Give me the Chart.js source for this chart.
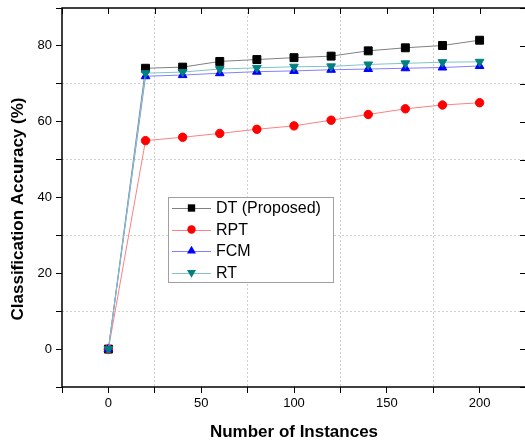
<!DOCTYPE html>
<html>
<head>
<meta charset="utf-8">
<script src="https://cdn.jsdelivr.net/npm/chart.js@4"></script>
<style>
html,body{margin:0;padding:0;background:#fff;overflow:hidden;}
#wrap{width:525px;height:444px;overflow:hidden;}
canvas{display:block;}
</style>
</head>
<body>
<div id="wrap"><canvas id="c" width="527" height="444"></canvas></div>
<script>
const instances = [0, 20, 40, 60, 80, 100, 120, 140, 160, 180, 200];
const dtValues  = [0, 74.1, 74.4, 75.9, 76.4, 76.9, 77.3, 78.7, 79.5, 80.1, 81.5];
const rptValues = [0, 55.0, 55.9, 56.9, 58.0, 58.9, 60.4, 61.9, 63.4, 64.4, 65.0];
const fcmValues = [0, 72.0, 72.3, 72.8, 73.2, 73.4, 73.7, 73.9, 74.1, 74.3, 74.7];
const rtValues  = [0, 72.8, 73.1, 73.9, 74.2, 74.5, 74.6, 75.1, 75.4, 75.7, 75.8];
const seriesNames = ['DT (Proposed)', 'RPT', 'FCM', 'RT'];
const xTitle = 'Number of Instances';
const yTitle = 'Classification Accuracy (%)';

const FONT = '"Liberation Sans", Arial, sans-serif';
const styles = [
  {line:'#808080', fill:'#000000', shape:'rect', r:5.6, rot:0},
  {line:'#ff8080', fill:'#ff0000', shape:'circle', r:4.2, rot:0},
  {line:'#8080ff', fill:'#0000ff', shape:'triangle', r:5, rot:0},
  {line:'#80c4c4', fill:'#008080', shape:'triangle', r:5, rot:180}
];
const allValues = [dtValues, rptValues, fcmValues, rtValues];

const datasets = allValues.map((vals, i) => ({
  label: seriesNames[i],
  data: instances.map((x, j) => ({x: x, y: vals[j]})),
  borderColor: styles[i].line,
  borderWidth: 1,
  pointStyle: styles[i].shape,
  pointRotation: styles[i].rot,
  pointRadius: styles[i].r,
  pointBackgroundColor: styles[i].fill,
  pointBorderColor: styles[i].fill,
  pointBorderWidth: 1,
  tension: 0,
  fill: false,
  clip: false,
  order: 4 - i
}));

function gridColor(ctx, step, lo, hi) {
  if (!ctx.tick) return 'rgba(0,0,0,0)';
  const v = ctx.tick.value;
  if (v <= lo || v >= hi) return 'rgba(0,0,0,0)';
  if (Math.abs(v % step) < 1e-6) return 'rgba(0,0,0,0)';
  return '#d0d0d0';
}

function drawMarker(ctx, shape, x, y, r, rot, color) {
  ctx.save();
  ctx.fillStyle = color;
  ctx.beginPath();
  if (shape === 'rect') {
    const s = Math.SQRT1_2 * r;
    ctx.rect(x - s, y - s, 2 * s, 2 * s);
  } else if (shape === 'circle') {
    ctx.arc(x, y, r, 0, Math.PI * 2);
  } else {
    const dir = rot === 180 ? -1 : 1;
    ctx.moveTo(x, y - dir * r);
    ctx.lineTo(x + r * 0.866, y + dir * r * 0.5);
    ctx.lineTo(x - r * 0.866, y + dir * r * 0.5);
    ctx.closePath();
  }
  ctx.fill();
  ctx.restore();
}

const framePlugin = {
  id: 'frame',
  afterDraw(chart) {
    const ctx = chart.ctx;
    const a = chart.chartArea;
    const xs = chart.scales.x, ys = chart.scales.y;
    ctx.save();
    ctx.setLineDash([]);
    ctx.strokeStyle = '#000';
    ctx.lineWidth = 1.5;
    ctx.strokeRect(a.left, a.top, a.right - a.left, a.bottom - a.top);
    ctx.lineWidth = 1;
    ctx.beginPath();
    for (let v = -25; v <= 225; v += 25) {
      const px = Math.round(xs.getPixelForValue(v)) + 0.5;
      ctx.moveTo(px, a.top);
      ctx.lineTo(px, a.top + 6);
    }
    for (let v = -10; v <= 90; v += 10) {
      const py = Math.round(ys.getPixelForValue(v)) + 0.5;
      ctx.moveTo(a.right, py);
      ctx.lineTo(a.right - 6, py);
    }
    ctx.stroke();

    // axis titles
    ctx.fillStyle = '#000';
    ctx.font = 'bold 17px ' + FONT;
    ctx.textAlign = 'center';
    ctx.textBaseline = 'middle';
    ctx.fillText(xTitle, 294, 432);
    ctx.save();
    ctx.translate(18, 209);
    ctx.rotate(-Math.PI / 2);
    ctx.fillText(yTitle, 0, 0);
    ctx.restore();

    // legend
    const bx = 168.5, by = 197.5, bw = 165, bh = 85;
    ctx.fillStyle = '#fff';
    ctx.fillRect(bx, by, bw, bh);
    ctx.strokeStyle = '#a0a0a0';
    ctx.lineWidth = 1;
    ctx.strokeRect(bx, by, bw, bh);
    ctx.font = '16px ' + FONT;
    ctx.textAlign = 'left';
    for (let i = 0; i < seriesNames.length; i++) {
      const cy = 208 + i * 21.5;
      ctx.strokeStyle = styles[i].line;
      ctx.beginPath();
      ctx.moveTo(172, Math.round(cy) + 0.5);
      ctx.lineTo(211, Math.round(cy) + 0.5);
      ctx.stroke();
      const rr = styles[i].shape === 'rect' ? 5.2 : (styles[i].shape === 'circle' ? 4.2 : 5.2);
      drawMarker(ctx, styles[i].shape, 191.5, cy, rr, styles[i].rot, styles[i].fill);
      ctx.fillStyle = '#000';
      ctx.fillText(seriesNames[i], 216, cy + 1);
    }
    ctx.restore();
  }
};

new Chart(document.getElementById('c'), {
  type: 'line',
  data: { datasets: datasets },
  options: {
    responsive: false,
    animation: false,
    events: [],
    layout: { autoPadding: false, padding: { left: 0, top: 8, right: 1, bottom: 0 } },
    plugins: { legend: { display: false }, tooltip: { enabled: false } },
    scales: {
      x: {
        type: 'linear',
        min: -25, max: 225,
        afterFit(s) { s.height = 57; s.paddingLeft = 0; s.paddingRight = 0; },
        ticks: {
          stepSize: 25,
          autoSkip: false,
          maxRotation: 0,
          color: '#000',
          font: { family: FONT, size: 13 },
          padding: 3,
          callback: v => (v % 50 === 0 ? String(v) : '')
        },
        grid: {
          color: ctx => gridColor(ctx, 50, -25, 225),
          lineWidth: 1,
          tickColor: '#000',
          tickLength: 6,
          drawTicks: true
        },
        border: { display: false, dash: [2, 2] }
      },
      y: {
        type: 'linear',
        min: -10, max: 90,
        afterFit(s) { s.width = 62; s.paddingTop = 0; s.paddingBottom = 0; },
        ticks: {
          stepSize: 10,
          autoSkip: false,
          color: '#000',
          font: { family: FONT, size: 13 },
          padding: 4,
          callback: v => (v % 20 === 0 ? String(v) : '')
        },
        grid: {
          color: ctx => gridColor(ctx, 20, -10, 90),
          lineWidth: 1,
          tickColor: '#000',
          tickLength: 6,
          drawTicks: true
        },
        border: { display: false, dash: [2, 2] }
      }
    }
  },
  plugins: [framePlugin]
});
</script>
</body>
</html>
